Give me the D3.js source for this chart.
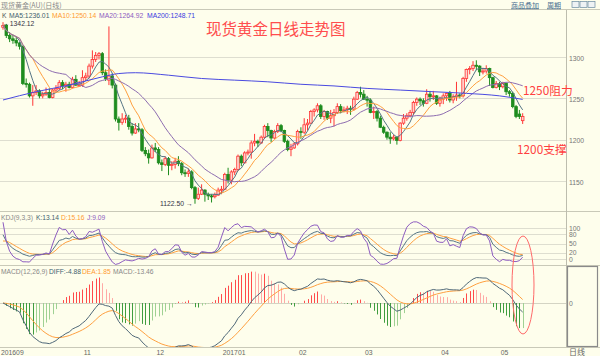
<!DOCTYPE html>
<html><head><meta charset="utf-8">
<script src="https://cdn.jsdelivr.net/npm/d3@7"></script>
<style>
body{margin:0;background:#fefeec;}
svg{display:block;}
text{font-family:"Liberation Sans",Arial,sans-serif;}
.cjk{font-family:"Noto Sans CJK SC","Noto Sans",sans-serif;}
</style></head><body><svg id="c" width="600" height="356"></svg>
<script>
// ---- data (daily OHLC) ----
const open =[1336,1338,1326,1322,1320,1317,1313,1268,1267,1253,1257,1259,1253,1255,1257,1251,1260,1262,1269,1265,1267,1263,1273,1266,1266,1275,1277,1289,1297,1302,1304,1281,1272,1277,1266,1225,1221,1225,1226,1216,1208,1213,1212,1187,1183,1178,1190,1188,1172,1170,1177,1169,1170,1174,1171,1160,1159,1161,1142,1129,1134,1139,1134,1132,1131,1133,1139,1140,1158,1151,1161,1164,1180,1172,1184,1185,1196,1198,1196,1203,1216,1211,1202,1210,1217,1211,1198,1188,1190,1195,1210,1209,1218,1220,1234,1236,1241,1228,1234,1226,1229,1233,1240,1235,1236,1238,1237,1249,1257,1255,1249,1248,1233,1234,1226,1215,1209,1203,1201,1203,1199,1220,1226,1229,1233,1245,1249,1247,1244,1255,1252,1253,1244,1249,1253,1256,1248,1252,1254,1253,1274,1285,1286,1290,1289,1282,1283,1286,1275,1263,1268,1264,1268,1258,1256,1240,1231,1223];
const high =[1342.12,1340,1330,1327,1325,1318,1314,1274,1269,1266,1266,1261,1258,1263,1262,1262,1266,1272,1272,1270,1270,1276,1278,1271,1284,1281,1292,1308,1306,1306,1306,1285,1337,1280,1268,1228,1232,1230,1230,1220,1220,1220,1214,1191,1188,1194,1196,1191,1176,1180,1179,1174,1178,1180,1173,1164,1165,1163,1144,1142,1146,1140,1136,1134,1136,1142,1144,1160,1166,1163,1166,1182,1182,1186,1188,1199,1207,1200,1205,1218,1220,1212,1212,1220,1219,1212,1200,1195,1197,1212,1215,1226,1225,1236,1238,1244,1243,1236,1235,1236,1237,1244,1243,1240,1241,1241,1252,1259,1264,1260,1253,1250,1240,1236,1229,1217,1210,1209,1206,1204,1221,1231,1232,1236,1247,1251,1251,1250,1261,1259,1259,1254,1252,1256,1257,1259,1255,1270,1256,1276,1286,1289,1295,1296,1290,1287,1290,1287,1276,1271,1270,1270,1269,1260,1258,1242,1236,1232];
const low  =[1333,1323,1318,1316,1313,1309,1266,1263,1251,1241,1254,1250,1250,1253,1250,1250,1257,1260,1261,1258,1262,1262,1265,1264,1264,1271,1274,1286,1294,1297,1278,1271,1266,1262,1222,1211,1218,1220,1212,1205,1207,1209,1185,1180,1171,1177,1185,1170,1162,1168,1157,1163,1165,1168,1157,1155,1155,1140,1122.5,1127,1133,1125,1127,1124,1129,1132,1134,1139,1147,1146,1157,1162,1168,1171,1181,1177,1192,1191,1195,1201,1203,1197,1201,1208,1209,1196,1186,1180,1189,1193,1201,1207,1211,1219,1228,1233,1225,1224,1224,1220,1216,1231,1232,1233,1231,1230,1235,1248,1251,1248,1240,1232,1225,1222,1214,1207,1200,1195,1199,1194,1198,1218,1223,1227,1230,1241,1242,1240,1243,1246,1248,1242,1240,1243,1247,1245,1244,1247,1250,1251,1270,1279,1283,1284,1277,1279,1280,1265,1262,1262,1260,1262,1254,1252,1238,1226,1225,1219];
const close=[1338,1326,1322,1320,1317,1313,1268,1267,1253,1257,1259,1253,1255,1257,1251,1260,1262,1269,1265,1267,1263,1273,1266,1266,1275,1277,1289,1297,1302,1304,1281,1274,1277,1266,1225,1221,1225,1226,1216,1208,1213,1212,1187,1183,1178,1190,1188,1172,1170,1177,1169,1170,1174,1171,1160,1159,1161,1142,1129,1134,1139,1134,1132,1131,1133,1139,1140,1158,1151,1161,1164,1180,1172,1184,1185,1196,1198,1196,1203,1216,1211,1202,1210,1217,1211,1198,1188,1190,1195,1210,1209,1218,1220,1234,1236,1241,1228,1234,1226,1229,1233,1240,1235,1236,1238,1237,1249,1257,1255,1249,1248,1233,1234,1226,1215,1209,1203,1201,1203,1199,1220,1226,1229,1233,1245,1249,1247,1244,1255,1252,1253,1244,1249,1253,1256,1248,1252,1254,1253,1274,1285,1286,1290,1289,1282,1283,1286,1275,1263,1268,1264,1268,1258,1256,1240,1228,1228,1228];
// MA200 read at sampled bars
const ma200Idx=[0,10,20,30,35,40,50,60,70,80,90,100,110,120,130,140,150,157];
const ma200Val=[1248,1258,1266,1276,1280,1281,1278,1274,1272,1270,1267,1265,1262,1260,1258,1256,1253,1248.71];
// KDJ state before the first bar
const kdjSeed=[90,48];
const tickLabels=["201609","11","12","201701","02","03","04","05"];
const tickIdx=[0,25,47,67,90,110,133,151];
const priceTicks=[1300,1250,1200,1150];
const kdjTicks=[100,80,50,20,0];

const N=close.length;
const svg=d3.select("#c");
const W=566;
svg.append("rect").attr("width",600).attr("height",356).attr("fill","#fefeec");

// scales
const x=d3.scaleBand().domain(d3.range(N)).range([1.35,1.35+N*3.31]).padding(0);
const cx=i=>x(i)+x.bandwidth()/2;
const yP=d3.scaleLinear().domain([1150,1300]).range([181,57]);
const yK=d3.scaleLinear().domain([0,100]).range([259,228]);
const yM=d3.scaleLinear().domain([-20,20]).range([339,267]);

// clip paths
const defs=svg.append("defs");
[["cm",0,10,W,201],["ck",0,212,W,53],["cd",0,266,W,81]].forEach(([id,a,b,w,h])=>{
  defs.append("clipPath").attr("id",id).append("rect").attr("x",a).attr("y",b).attr("width",w).attr("height",h);
});

// frame lines
const lc="#c9c9b8";
svg.append("line").attr("x1",0).attr("x2",600).attr("y1",9.5).attr("y2",9.5).attr("stroke",lc);
[211.5,265.5,347.5].forEach(y=>svg.append("line").attr("x1",0).attr("x2",600).attr("y1",y).attr("y2",y).attr("stroke",lc));
svg.append("line").attr("x1",566.5).attr("x2",566.5).attr("y1",10).attr("y2",347).attr("stroke","#bdbdae");

// grid
const gc="#deded0";
priceTicks.forEach(p=>{
  svg.append("line").attr("x1",0).attr("x2",W).attr("y1",Math.round(yP(p))+0.5).attr("y2",Math.round(yP(p))+0.5).attr("stroke",gc);
  svg.append("text").attr("x",569).attr("y",yP(p)+3.5).attr("font-size",6.8).attr("fill","#777").text(p);
});
kdjTicks.forEach(v=>{
  svg.append("line").attr("x1",0).attr("x2",W).attr("y1",Math.round(yK(v))+0.5).attr("y2",Math.round(yK(v))+0.5).attr("stroke",gc);
  svg.append("text").attr("x",569).attr("y",yK(v)+2.5).attr("font-size",6.8).attr("fill","#777").text(v);
});
svg.append("line").attr("x1",0).attr("x2",W).attr("y1",Math.round(yM(0))+0.5).attr("y2",Math.round(yM(0))+0.5).attr("stroke","#d4d4c4");
svg.append("rect").attr("x",567.5).attr("y",266.5).attr("width",30).attr("height",80).attr("fill","none").attr("stroke","#8a8a8a").attr("stroke-width",1.2);
svg.append("text").attr("x",569).attr("y",yM(0)+2.5).attr("font-size",6.8).attr("fill","#777").text("0");

// indicators
function ma(n){return close.map((c,i)=>d3.mean(close.slice(Math.max(0,i-n+1),i+1)));}
const ma5=ma(5),ma10=ma(10),ma20=ma(20);
let K=[],D=[],J=[];{let k=kdjSeed[0],d=kdjSeed[1];for(let i=0;i<N;i++){const s=Math.max(0,i-8);const hh=d3.max(high.slice(s,i+1)),ll=d3.min(low.slice(s,i+1));const rsv=hh>ll?(close[i]-ll)/(hh-ll)*100:50;k=2/3*k+rsv/3;d=2/3*d+k/3;K.push(k);D.push(d);J.push(3*k-2*d);}}
let DIF=[],DEA=[],MAC=[];{let e12=close[0],e26=close[0],de=0;for(let i=0;i<N;i++){e12=e12*11/13+close[i]*2/13;e26=e26*25/27+close[i]*2/27;const df=e12-e26;de=de*0.8+df*0.2;DIF.push(df);DEA.push(de);MAC.push(2*(df-de));}}

// candles
const gm=svg.append("g").attr("clip-path","url(#cm)");
const up="#ff3535",dn="#1e8c1e";
for(let i=0;i<N;i++){
  const isUp=close[i]>=open[i];const c=isUp?up:dn;const xc=cx(i);
  gm.append("line").attr("x1",xc).attr("x2",xc).attr("y1",yP(high[i])).attr("y2",yP(low[i])).attr("stroke",c).attr("stroke-width",1);
  const y0=yP(Math.max(open[i],close[i])),h=Math.max(1,yP(Math.min(open[i],close[i]))-y0);
  gm.append("rect").attr("x",xc-1.3).attr("y",y0).attr("width",2.6).attr("height",h)
    .attr("fill",isUp?"#ffd2cc":dn).attr("stroke",c).attr("stroke-width",0.8);
}
const line=(arr,ys)=>d3.line().x((d,i)=>cx(i)).y(d=>ys(d))(arr);
[[ma5,"#557585"],[ma10,"#ffa040"],[ma20,"#8d6cb0"]].forEach(([a,c])=>gm.append("path").attr("d",line(a,yP)).attr("fill","none").attr("stroke",c).attr("stroke-width",1));
gm.append("path").attr("d",d3.line().curve(d3.curveMonotoneX).x((d,k)=>cx(ma200Idx[k])).y(d=>yP(d))(ma200Val)).attr("fill","none").attr("stroke","#4a4ae0").attr("stroke-width",1);

// KDJ
const gk=svg.append("g").attr("clip-path","url(#ck)");
[[D,"#ffa040"],[K,"#557585"],[J,"#8d5cc0"]].forEach(([a,c])=>gk.append("path").attr("d",line(a,yK)).attr("fill","none").attr("stroke",c).attr("stroke-width",1));

// MACD
const gd=svg.append("g").attr("clip-path","url(#cd)");
for(let i=0;i<N;i++){
  const v=MAC[i],pv=i>0?MAC[i-1]:0;let c;
  if(v>=0)c=(v>=pv)?"#ff4a4a":"#ffaaa6";else c=(v<=pv)?"#3f9d3f":"#9fd193";
  gd.append("line").attr("x1",Math.round(cx(i))+0.5).attr("x2",Math.round(cx(i))+0.5).attr("y1",yM(0)).attr("y2",yM(v)).attr("stroke",c).attr("stroke-width",1);
}
[[DEA,"#ffa040"],[DIF,"#4f6878"]].forEach(([a,c])=>gd.append("path").attr("d",line(a,yM)).attr("fill","none").attr("stroke",c).attr("stroke-width",1));

// date axis
tickLabels.forEach((t,k)=>svg.append("text").attr("x",Math.max(0,cx(tickIdx[k])-2)).attr("y",355).attr("font-size",6.8).attr("fill","#666").text(t));
svg.append("text").attr("class","cjk").attr("x",569).attr("y",355).attr("font-size",8).attr("fill","#666").text("日线");

// header
svg.append("text").attr("class","cjk").attr("x",1).attr("y",7.5).attr("font-size",7).attr("fill","#888").text("现货黄金(AU)(日线)");
svg.append("text").attr("class","cjk").attr("x",511).attr("y",7.5).attr("font-size",7).attr("fill","#4a7090").attr("text-decoration","underline").text("商品叠加");
svg.append("text").attr("class","cjk").attr("x",547).attr("y",7.5).attr("font-size",7).attr("fill","#4a7090").attr("text-decoration","underline").text("周期");
[572,580,588].forEach(xx=>svg.append("rect").attr("x",xx).attr("y",1.5).attr("width",7).attr("height",6).attr("fill","#eef2f4").attr("stroke","#6a8aa0").attr("stroke-width",0.7));

const info=[["K",2,"#555"],["MA5:1236.01",9,"#3e5e6e"],["MA10:1250.14",52,"#ff9a30"],["MA20:1264.92",99,"#8d5cc0"],["MA200:1248.71",147,"#3a3ae0"]];
info.forEach(([t,xx,c])=>svg.append("text").attr("x",xx).attr("y",18).attr("font-size",6.8).attr("fill",c).text(t));
const kinfo=[["KDJ(9,3,3)",1,"#888"],["K:13.14",36,"#3e5e6e"],["D:15.16",61,"#ff9a30"],["J:9.09",87,"#8d5cc0"]];
kinfo.forEach(([t,xx,c])=>svg.append("text").attr("x",xx).attr("y",219.5).attr("font-size",6.7).attr("fill",c).text(t));
const minfo=[["MACD(12,26,9)",1,"#888"],["DIFF:-4.88",49,"#3e5e6e"],["DEA:1.85",82,"#ff9a30"],["MACD:-13.46",113,"#888"]];
minfo.forEach(([t,xx,c])=>svg.append("text").attr("x",xx).attr("y",274).attr("font-size",6.7).attr("fill",c).text(t));

svg.append("text").attr("x",3).attr("y",26).attr("font-size",6.8).attr("fill","#334").text("←1342.12");
svg.append("text").attr("x",160).attr("y",205.5).attr("font-size",6.8).attr("fill","#334").text("1122.50 →");

// annotations
svg.append("text").attr("class","cjk").attr("x",206).attr("y",35).attr("font-size",15.5).attr("fill","#ff4d4d").text("现货黄金日线走势图");
svg.append("text").attr("class","cjk").attr("x",523).attr("y",94.5).attr("font-size",11.8).attr("fill","#ff4040").text("1250阻力");
svg.append("text").attr("class","cjk").attr("x",517).attr("y",153.5).attr("font-size",11.8).attr("fill","#ff4040").text("1200支撑");
svg.append("ellipse").attr("cx",523).attr("cy",285).attr("rx",11).attr("ry",49).attr("fill","none").attr("stroke","#ff6a6a").attr("stroke-width",1);
</script></body></html>
